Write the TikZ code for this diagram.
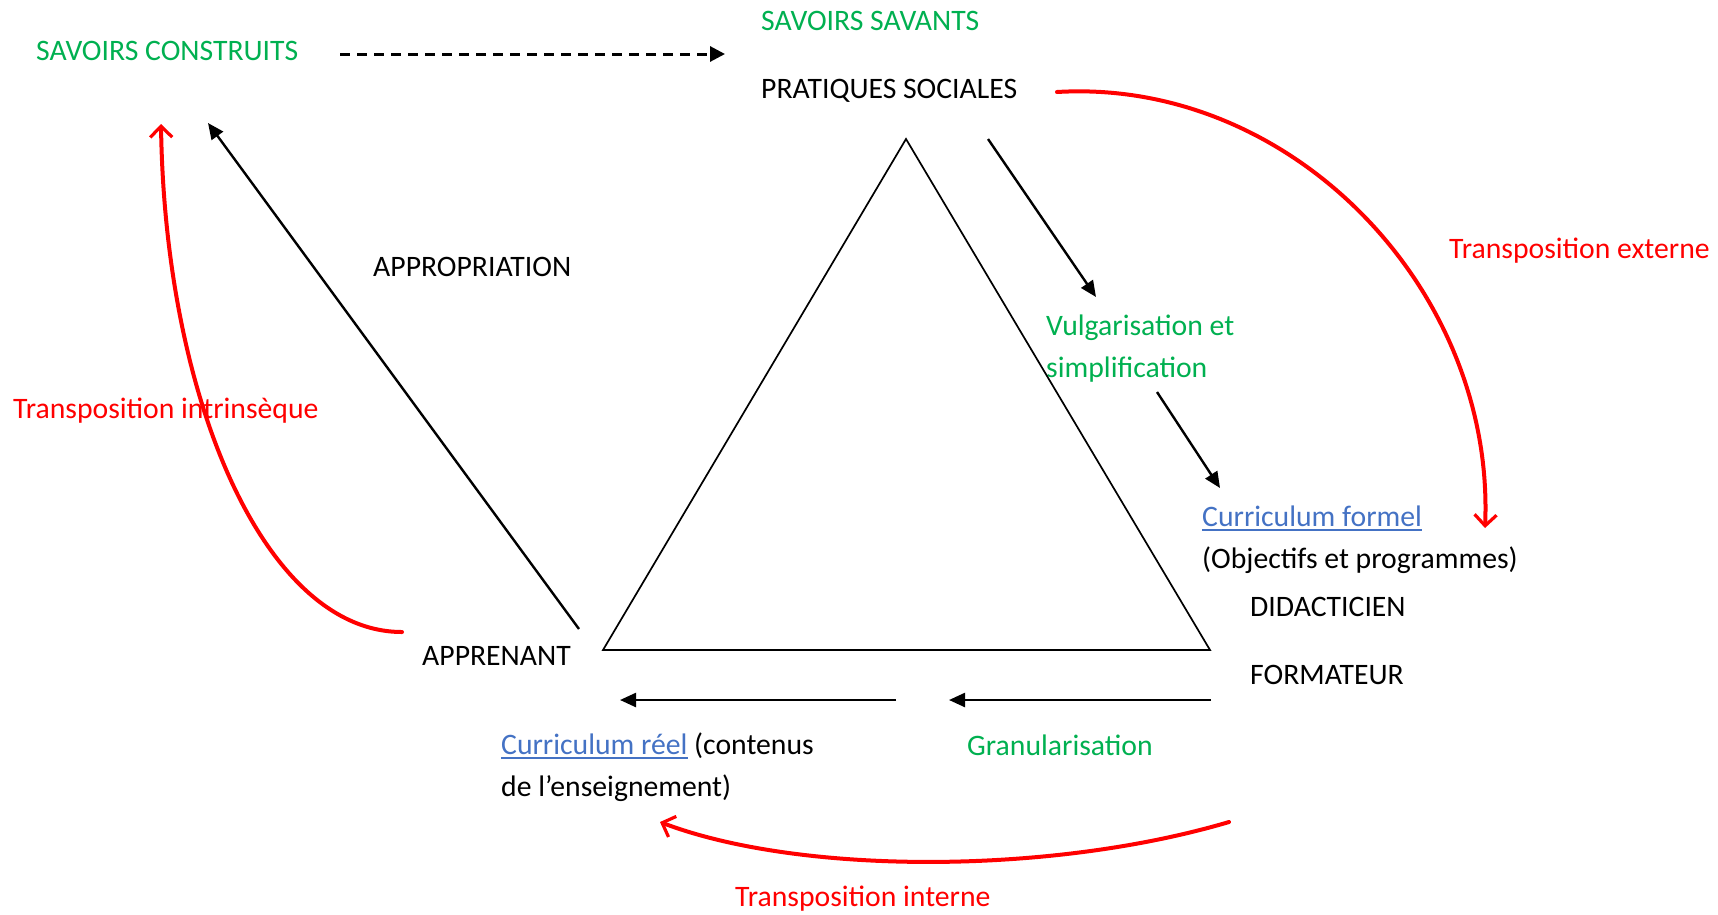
\documentclass[tikz,border=0pt]{standalone}
\usepackage{fontspec}
\setmainfont{Carlito}
\usetikzlibrary{arrows.meta}
\definecolor{vert}{RGB}{0,176,80}
\definecolor{rouge}{RGB}{255,0,0}
\definecolor{lien}{RGB}{68,114,196}
\newcommand\souligne[1]{\setbox0=\hbox{#1}\rlap{\rule[-5pt]{\wd0}{1.8pt}}\box0}
\begin{document}
\begin{tikzpicture}[x=1pt,y=-1pt,
  txt/.style={anchor=base west,inner sep=0pt,align=left,font=\fontsize{29.7}{42}\selectfont},
  blackarrow/.style={line width=2.4pt,-{Triangle[length=16pt,width=14pt]}},
  dasharrow/.style={line width=3pt,dash pattern=on 10pt off 7pt,-{Triangle[length=15pt,width=15pt]}},
  redarrow/.style={rouge,line width=4pt,line cap=round,-{Straight Barb[length=11pt,width=22pt,line width=3.2pt]}},
  tri/.style={line width=1.7pt,line join=miter}]
\useasboundingbox (0,0) rectangle (1718,914);

% texts
\node[txt,text=vert] (sc) at (36,60) {SAVOIRS CONSTRUITS};
\node[txt,text=vert] (ss) at (761,30) {SAVOIRS SAVANTS};
\node[txt] (ps) at (761,98) {PRATIQUES SOCIALES};
\node[txt,text=vert] (vulg) at (1046,377) {Vulgarisation et\\simplification};
\node[txt,text=lien] (cf) at (1202,526) {\souligne{Curriculum formel}};
\node[txt] (obj) at (1202,568) {(Objectifs et programmes)};
\node[txt] (did) at (1250,616) {DIDACTICIEN};
\node[txt] (form) at (1250,684) {FORMATEUR};
\node[txt,text=rouge] (text) at (1449,258) {Transposition externe};
\node[txt] (cr) at (501,796) {\textcolor{lien}{\souligne{Curriculum réel}} (contenus\\de l’enseignement)};
\node[txt,text=vert] (gran) at (967,755) {Granularisation};
\node[txt,text=rouge] (tint) at (735,906) {Transposition interne};
\node[txt] (app) at (422,665) {APPRENANT};
\node[txt] (appr) at (373,276) {APPROPRIATION};
\node[txt,text=rouge] (tintr) at (13,418) {Transposition intrinsèque};

% triangle
\coordinate (apex) at (906,139);
\coordinate (bl) at (603,650);
\coordinate (br) at (1210,650);
\draw[tri] (apex) -- (bl) -- (br) -- cycle;

% black arrows
\coordinate (d1) at (340,54); \coordinate (d2) at (725,54);
\draw[dasharrow] (d1) -- (d2);
\coordinate (v1) at (988,139); \coordinate (v2) at (1096,297);
\draw[blackarrow] (v1) -- (v2);
\coordinate (v3) at (1157,392); \coordinate (v4) at (1220,488);
\draw[blackarrow] (v3) -- (v4);
\coordinate (a1) at (579,629); \coordinate (a2) at (208,123);
\draw[blackarrow] (a1) -- (a2);
\coordinate (g1) at (896,700); \coordinate (g2) at (620,700);
\draw[blackarrow] (g1) -- (g2);
\coordinate (g3) at (1211,700); \coordinate (g4) at (949,700);
\draw[blackarrow] (g3) -- (g4);

% red arcs
\coordinate (e1) at (1057,92); \coordinate (e2) at (1485,528);
\draw[redarrow] (e1) .. controls (1292,78) and (1495,290) .. (e2);
\coordinate (i1) at (1229,822); \coordinate (i2) at (660,822);
\draw[redarrow] (i1) .. controls (1050,875) and (800,875) .. (i2);
\coordinate (r1) at (402,632); \coordinate (r2) at (161,124);
\draw[redarrow] (r1) .. controls (265,632) and (165,400) .. (r2);
\end{tikzpicture}
\end{document}
